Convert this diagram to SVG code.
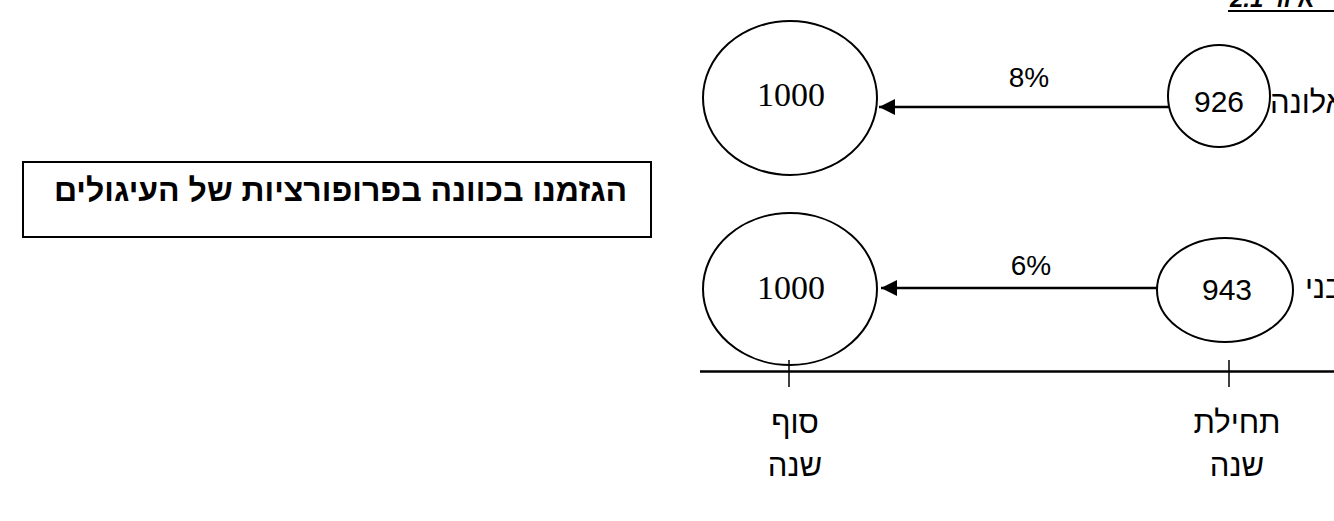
<svg xmlns="http://www.w3.org/2000/svg" width="1334" height="521" viewBox="0 0 1334 521">
<style>
  .shape{fill:none;stroke:#000;stroke-width:2}
  .line{stroke:#000;stroke-width:2.5;fill:none}
  .tick{stroke:#000;stroke-width:1.5}
  .serif{font-family:"Liberation Serif","DejaVu Serif",serif;font-size:34px;fill:#000;text-anchor:middle}
  .sans{font-family:"Liberation Sans","DejaVu Sans",sans-serif;font-size:30px;fill:#000;text-anchor:middle}
  .pct{font-family:"Liberation Sans","DejaVu Sans",sans-serif;font-size:28px;fill:#000;text-anchor:middle}
  .heb{font-family:"Liberation Sans","DejaVu Sans",sans-serif;font-size:31px;fill:#000}
  .note{font-family:"Liberation Sans","DejaVu Sans",sans-serif;font-size:32px;font-weight:bold;fill:#000;text-anchor:middle}
  .title{font-family:"Liberation Sans","DejaVu Sans",sans-serif;font-size:24px;font-weight:bold;font-style:italic;fill:#000}
</style>
<defs>
  <marker id="arrow" viewBox="0 0 16 16" refX="16" refY="8" markerWidth="16" markerHeight="16" markerUnits="userSpaceOnUse" orient="auto">
    <path d="M0,0 L16,8 L0,16 Z" fill="#000"/>
  </marker>
</defs>
<rect width="1334" height="521" fill="#fff"/>

<g id="title">
  <text class="title" x="1230" y="7">2.1 איור</text>
  <line x1="1228" y1="11" x2="1334" y2="11" stroke="#000" stroke-width="2"/>
</g>

<g id="note">
  <rect class="shape" x="23" y="162" width="628" height="75"/>
  <text class="note" x="340.5" y="201">הגזמנו בכוונה בפרופורציות של העיגולים</text>
</g>

<g id="alona-end">
  <ellipse class="shape" cx="790" cy="98" rx="87" ry="77"/>
  <text class="serif" x="791" y="106">1000</text>
</g>
<g id="alona-start">
  <ellipse class="shape" cx="1219" cy="96" rx="51" ry="51"/>
  <text class="sans" x="1219" y="112">926</text>
</g>
<g id="alona-label">
  <text class="heb" x="1270" y="113">אלונה</text>
</g>

<g id="beni-end">
  <ellipse class="shape" cx="790" cy="289" rx="87" ry="76"/>
  <text class="serif" x="791" y="299">1000</text>
</g>
<g id="beni-start">
  <ellipse class="shape" cx="1225" cy="290" rx="68" ry="52"/>
  <text class="sans" x="1227" y="300">943</text>
</g>
<g id="beni-label">
  <text class="heb" x="1305" y="298">בני</text>
</g>

<g id="axis">
  <line class="line" x1="700" y1="371.5" x2="1334" y2="371.5"/>
  <line class="tick" x1="789" y1="360" x2="789" y2="387"/>
  <line class="tick" x1="1229" y1="360" x2="1229" y2="387"/>
</g>
<g id="label-end">
  <text class="heb" text-anchor="middle" x="795" y="433">סוף</text>
  <text class="heb" text-anchor="middle" x="795" y="476">שנה</text>
</g>
<g id="label-start">
  <text class="heb" text-anchor="middle" x="1237" y="433">תחילת</text>
  <text class="heb" text-anchor="middle" x="1237" y="476">שנה</text>
</g>

<g id="connectors">
  <line class="line" x1="1169" y1="107" x2="879" y2="107" marker-end="url(#arrow)"/>
  <text class="pct" x="1029" y="87">8%</text>
  <line class="line" x1="1157" y1="288" x2="881" y2="288" marker-end="url(#arrow)"/>
  <text class="pct" x="1031" y="275">6%</text>
</g>
</svg>
